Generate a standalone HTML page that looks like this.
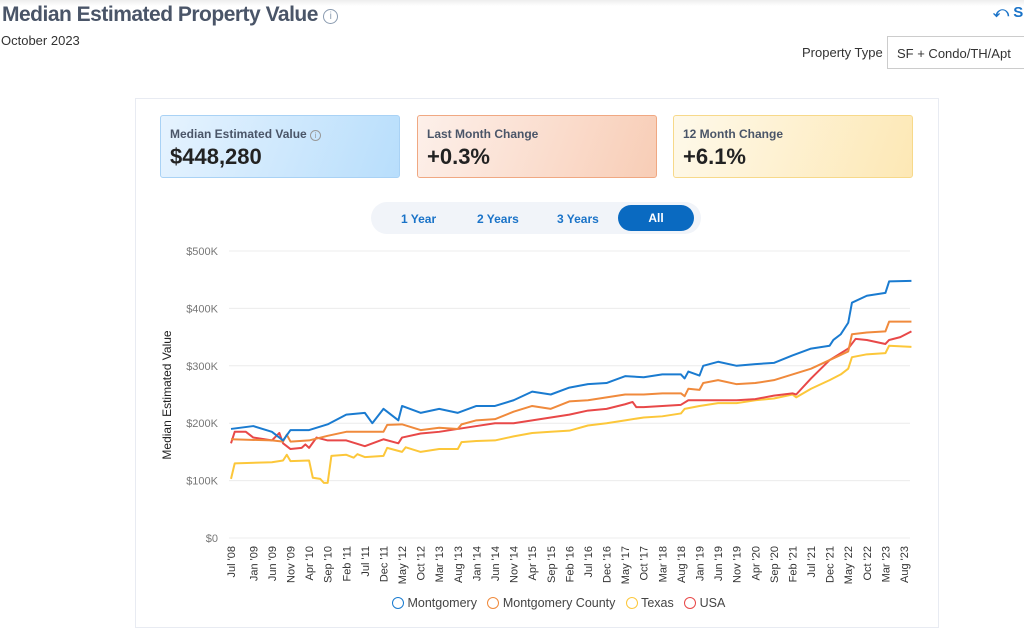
<!DOCTYPE html>
<html><head><meta charset="utf-8"><style>
*{box-sizing:border-box;margin:0;padding:0}
body{width:1024px;height:620px;overflow:hidden;background:#fff;font-family:"Liberation Sans",sans-serif;position:relative;color:#333}
.abs{position:absolute}
</style></head><body>
<div class="abs" style="left:0;top:0;width:1024px;height:6px;background:linear-gradient(#eee,#fff)"></div>
<div class="abs" style="left:2px;top:3px;font-size:21px;font-weight:bold;color:#4a5568;letter-spacing:-0.5px;white-space:nowrap">Median Estimated Property Value <span style="display:inline-block;width:15px;height:15px;border:1.3px solid #8a9bb0;border-radius:50%;font-size:10px;color:#8a9bb0;text-align:center;line-height:13px;vertical-align:2px;font-weight:normal;letter-spacing:0">i</span></div>
<div class="abs" style="left:993px;top:4px;font-size:15px;color:#1a73c8;font-weight:bold;white-space:nowrap">⤺ S</div>
<div class="abs" style="left:1px;top:33px;font-size:13px;color:#333">October 2023</div>
<div class="abs" style="left:802px;top:45px;font-size:13px;color:#333">Property Type</div>
<div class="abs" style="left:887px;top:36px;width:140px;height:33px;border:1px solid #ccc;font-size:13px;padding:9px 9px;color:#333;white-space:nowrap">SF + Condo/TH/Apt</div>
<div class="abs" style="left:135px;top:98px;width:804px;height:530px;border:1px solid #e8ebf2"></div>
<div class="abs" style="left:160px;top:115px;width:240px;height:63px;border:1px solid #a9d2f5;border-radius:3px;background:linear-gradient(110deg,#e6f3fe,#b8defc)">
<div style="position:absolute;left:9px;top:11px;font-size:12px;font-weight:bold;color:#4a5568">Median Estimated Value <span style="display:inline-block;width:11px;height:11px;border:1px solid #999;border-radius:50%;font-size:8px;text-align:center;line-height:9px;color:#999;font-weight:normal">i</span></div>
<div style="position:absolute;left:9px;top:28px;font-size:22px;font-weight:bold;color:#222">$448,280</div></div>
<div class="abs" style="left:417px;top:115px;width:240px;height:63px;border:1px solid #f0a882;border-radius:3px;background:linear-gradient(110deg,#fdf0ea,#f8cdb6)">
<div style="position:absolute;left:9px;top:11px;font-size:12px;font-weight:bold;color:#4a5568">Last Month Change</div>
<div style="position:absolute;left:9px;top:28px;font-size:22px;font-weight:bold;color:#222">+0.3%</div></div>
<div class="abs" style="left:673px;top:115px;width:240px;height:63px;border:1px solid #f7d98a;border-radius:3px;background:linear-gradient(110deg,#fef9ea,#fde8b5)">
<div style="position:absolute;left:9px;top:11px;font-size:12px;font-weight:bold;color:#4a5568">12 Month Change</div>
<div style="position:absolute;left:9px;top:28px;font-size:22px;font-weight:bold;color:#222">+6.1%</div></div>
<div class="abs" style="left:371px;top:202px;width:330px;height:32px;border-radius:16px;background:#f1f4f9">
<div class="abs" style="left:30px;top:10px;font-size:12px;font-weight:bold;color:#1a73c8">1 Year</div>
<div class="abs" style="left:106px;top:10px;font-size:12px;font-weight:bold;color:#1a73c8">2 Years</div>
<div class="abs" style="left:186px;top:10px;font-size:12px;font-weight:bold;color:#1a73c8">3 Years</div>
<div class="abs" style="left:247px;top:3px;width:76px;height:26px;border-radius:13px;background:#0a6ac1;color:#fff;font-size:12px;font-weight:bold;text-align:center;line-height:26px">All</div>
</div>
<svg id="chart" class="abs" style="left:0;top:0" width="1024" height="620"></svg>
<div class="abs" style="left:392px;top:596px;font-size:12.5px;color:#444;white-space:nowrap">
<span><span style="display:inline-block;width:12px;height:12px;border:1.5px solid #1a7bd0;border-radius:50%;vertical-align:-2px"></span> Montgomery</span>&nbsp;&nbsp;
<span><span style="display:inline-block;width:12px;height:12px;border:1.5px solid #f08a3c;border-radius:50%;vertical-align:-2px"></span> Montgomery County</span>&nbsp;&nbsp;
<span><span style="display:inline-block;width:12px;height:12px;border:1.5px solid #fcc73a;border-radius:50%;vertical-align:-2px"></span> Texas</span>&nbsp;&nbsp;
<span><span style="display:inline-block;width:12px;height:12px;border:1.5px solid #e84848;border-radius:50%;vertical-align:-2px"></span> USA</span>
</div>
<script>
const tickLabels=["Jul '08","Jan '09","Jun '09","Nov '09","Apr '10","Sep '10","Feb '11","Jul '11","Dec '11","May '12","Oct '12","Mar '13","Aug '13","Jan '14","Jun '14","Nov '14","Apr '15","Sep '15","Feb '16","Jul '16","Dec '16","May '17","Oct '17","Mar '18","Aug '18","Jan '19","Jun '19","Nov '19","Apr '20","Sep '20","Feb '21","Jul '21","Dec '21","May '22","Oct '22","Mar '23","Aug '23"];
const tickMonths=[0,6,11,16,21,26,31,36,41,46,51,56,61,66,71,76,81,86,91,96,101,106,111,116,121,126,131,136,141,146,151,156,161,166,171,176,181];
const yTicks=[0,100,200,300,400,500];
const montMonths=[0,6,11,14,16,21,26,31,36,38,41,45,46,51,56,61,66,71,76,81,86,91,96,101,106,111,116,121,122,123,126,127,131,136,141,146,151,156,161,162,164,166,167,171,176,177,183];
const montVals=[190,195,185,170,188,188,198,215,218,200,225,205,230,218,225,218,230,230,240,255,250,262,268,270,282,280,285,285,278,290,283,300,307,300,303,305,318,330,335,345,355,375,410,422,427,447,448];
const countyMonths=[0,11,14,15,16,21,26,31,36,41,42,46,51,56,61,62,66,71,76,81,86,91,96,101,106,111,116,121,122,123,126,127,131,136,141,146,151,156,161,166,167,171,176,177,183];
const countyVals=[172,170,168,180,168,170,178,185,185,185,197,198,188,192,190,198,205,207,220,230,225,238,240,245,250,250,252,252,247,260,258,270,275,268,270,275,285,295,310,325,355,358,360,377,377];
const usaMonths=[0,1,4,6,11,13,14,16,19,20,21,23,26,31,36,41,45,46,51,56,61,66,71,76,81,86,91,96,101,106,108,109,111,116,121,123,126,131,136,141,146,151,152,156,161,166,168,171,176,177,180,183];
const usaVals=[165,185,185,175,170,183,165,155,157,163,157,175,170,170,160,172,165,175,182,185,190,195,200,200,205,210,215,222,225,233,237,228,228,230,232,240,240,240,240,242,248,252,250,278,310,330,347,345,338,345,350,360];
const texasMonths=[0,1,11,14,15,16,21,22,24,25,26,27,31,33,34,36,41,42,46,47,51,56,61,62,66,71,76,81,86,91,96,101,106,111,116,121,122,126,131,136,141,146,151,152,156,161,164,165,166,167,171,176,177,183];
const texasVals=[103,130,132,135,145,134,135,105,103,96,96,143,145,140,146,141,143,157,150,158,150,155,155,167,169,170,177,183,185,187,196,200,205,210,212,217,225,230,235,235,240,243,250,245,260,275,285,290,295,315,320,322,335,333];
const svg=document.getElementById('chart');const NS='http://www.w3.org/2000/svg';
const X=m=>231+m*(673/181);const Y=v=>538-v*0.574;
function mk(t,a){const e=document.createElementNS(NS,t);for(const k in a)e.setAttribute(k,a[k]);svg.appendChild(e);return e;}
yTicks.forEach(v=>{
const g=mk('line',{x1:229,x2:910,y1:Y(v),y2:Y(v),stroke:'#ececec','stroke-width':1});


const t=mk('text',{x:218,y:Y(v)+4,'text-anchor':'end','font-size':11,fill:'#777','font-family':'Liberation Sans, sans-serif'});t.textContent='$'+v+(v?'K':'');


});
tickLabels.forEach((l,i)=>{
const x=X(tickMonths[i]);
const t=mk('text',{x:0,y:0,transform:`translate(${x+4},546) rotate(-90)`,'text-anchor':'end','font-size':11,fill:'#333','font-family':'Liberation Sans, sans-serif'});t.textContent=l;


});
const yt=mk('text',{x:0,y:0,transform:'translate(171,395) rotate(-90)','text-anchor':'middle','font-size':12,fill:'#222','font-family':'Liberation Sans, sans-serif'});yt.textContent='Median Estimated Value';


function line(ms,vs,c,name){
const p=mk('polyline',{points:ms.map((m,i)=>X(m)+','+Y(vs[i])).join(' '),fill:'none',stroke:c,'stroke-width':2,'stroke-linejoin':'round'});


}
line(texasMonths,texasVals,'#fcc73a','texas-line');
line(usaMonths,usaVals,'#e84848','usa-line');
line(countyMonths,countyVals,'#f08a3c','montgomery-county-line');
line(montMonths,montVals,'#1a7bd0','montgomery-line');
</script>
</body></html>
